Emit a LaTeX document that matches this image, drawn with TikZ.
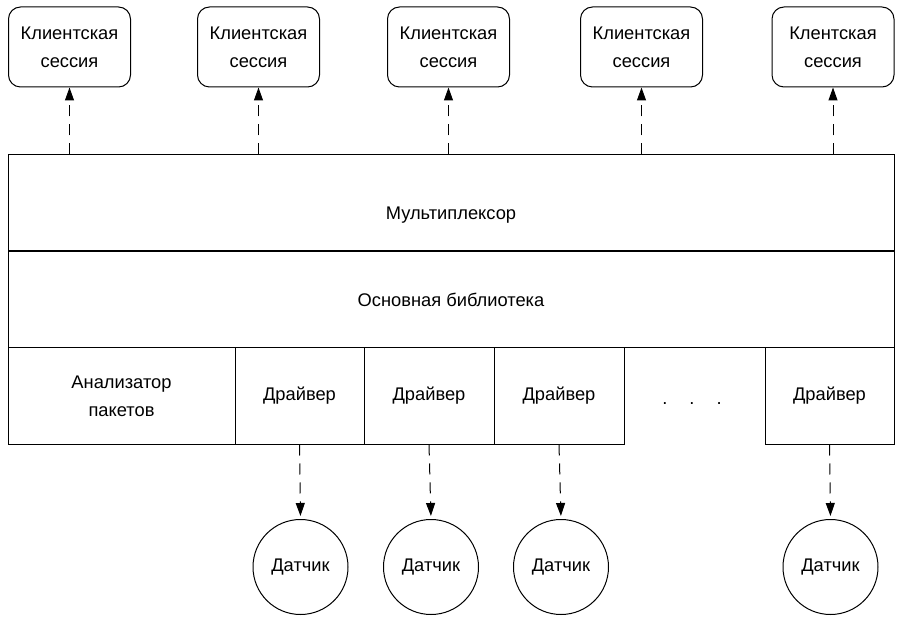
\documentclass[tikz,border=0pt]{standalone}
\usepackage{fontspec}
\setmainfont{Liberation Sans}
\usetikzlibrary{arrows.meta}

\begin{document}
\begin{tikzpicture}[x=1pt,y=-1pt,line width=1pt,
  every node/.style={font=\fontsize{18.3}{28}\selectfont},
  session/.style={draw,rounded corners=12pt,minimum width=122pt,minimum height=80pt,align=center},
  block/.style={draw,minimum height=96pt,align=center},
  sensor/.style={draw,circle,inner sep=0pt,minimum size=95pt},
  flow/.style={dash pattern=on 11pt off 8pt,-{Triangle[length=13pt,width=9pt]}}]

\useasboundingbox (0,0) rectangle (900,620);

% Client sessions
\node[session] (s1) at (69.5,47) {Клиентская\\сессия};
\node[session] (s2) at (258.5,47) {Клиентская\\сессия};
\node[session] (s3) at (448.5,47) {Клиентская\\сессия};
\node[session] (s4) at (641.5,47) {Клиентская\\сессия};
\node[session] (s5) at (833,47) {Клентская\\сессия};

% Multiplexer and core library
\node[block,minimum width=886pt,label={[yshift=-12pt]center:Мультиплексор}] (mux) at (451,203) {};
\node[block,minimum width=886pt] (lib) at (451,299.5) {Основная библиотека};

% Analyzer and drivers
\node[block,minimum width=227pt] (an) at (121.5,396) {Анализатор\\пакетов};
\node[block,minimum width=129pt] (d1) at (299.5,396) {Драйвер};
\node[block,minimum width=130pt] (d2) at (429,396) {Драйвер};
\node[block,minimum width=130pt] (d3) at (559,396) {Драйвер};
\node (dots) at (692,404) {.\hspace{22pt}.\hspace{22pt}.};
\node[block,minimum width=129pt] (d4) at (829.5,396) {Драйвер};

% Sensors
\node[sensor] (c1) at (300.5,567) {Датчик};
\node[sensor] (c2) at (431,567) {Датчик};
\node[sensor] (c3) at (561,567) {Датчик};
\node[sensor] (c4) at (830.5,567) {Датчик};

% Arrows from multiplexer to sessions
\foreach \s in {s1,s2,s3,s4,s5}
  \draw[flow] (\s.south |- mux.north) -- (\s.south);

% Arrows from drivers to sensors
\foreach \d/\c in {d1/c1,d2/c2,d3/c3,d4/c4}
  \draw[flow,shorten >=3pt] (\d.south) -- (\c.north);

\end{tikzpicture}
\end{document}
